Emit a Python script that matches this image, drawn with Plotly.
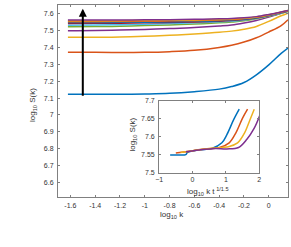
import plotly.graph_objects as go

# ---- main panel data ----
log_k = [-1.62, -1.4, -1.2, -1.0, -0.8, -0.6, -0.4, -0.3, -0.2, -0.1, 0.0, 0.1, 0.155]
s1 = [7.122, 7.122, 7.122, 7.124, 7.128, 7.138, 7.153, 7.168, 7.192, 7.238, 7.297, 7.365, 7.397]
s2 = [7.371, 7.371, 7.370, 7.371, 7.375, 7.383, 7.400, 7.413, 7.432, 7.458, 7.492, 7.530, 7.565]
s3 = [7.460, 7.460, 7.462, 7.466, 7.472, 7.480, 7.490, 7.497, 7.508, 7.525, 7.555, 7.588, 7.604]
s4 = [7.499, 7.500, 7.503, 7.507, 7.512, 7.518, 7.527, 7.533, 7.545, 7.560, 7.580, 7.603, 7.616]
s5 = [7.523, 7.524, 7.526, 7.530, 7.534, 7.539, 7.546, 7.551, 7.558, 7.570, 7.585, 7.603, 7.613]
s6 = [7.532, 7.533, 7.535, 7.538, 7.542, 7.546, 7.552, 7.556, 7.563, 7.573, 7.588, 7.605, 7.615]
s7 = [7.542, 7.543, 7.544, 7.546, 7.548, 7.551, 7.556, 7.560, 7.566, 7.575, 7.590, 7.607, 7.617]
s8 = [7.548, 7.548, 7.549, 7.550, 7.552, 7.555, 7.559, 7.563, 7.568, 7.577, 7.591, 7.608, 7.618]
s9 = [7.553, 7.553, 7.554, 7.555, 7.557, 7.559, 7.563, 7.566, 7.571, 7.579, 7.593, 7.609, 7.618]
s10 = [7.558, 7.558, 7.559, 7.560, 7.561, 7.563, 7.566, 7.569, 7.573, 7.581, 7.594, 7.610, 7.619]
s11 = [7.563, 7.563, 7.563, 7.564, 7.565, 7.567, 7.570, 7.572, 7.576, 7.583, 7.596, 7.611, 7.620]
main_series = [s1, s2, s3, s4, s5, s6, s7, s8, s9, s10, s11]

# ---- inset data (rescaled) ----
in_x1 = [-0.67, -0.45, -0.2, -0.15, 0.2, 0.58, 0.88, 1.03, 1.23, 1.4]
in_y1 = [7.549, 7.549, 7.550, 7.556, 7.5636, 7.567, 7.583, 7.606, 7.647, 7.677]
in_x2 = [-0.5, -0.2, 0.29, 0.81, 1.1, 1.3, 1.5, 1.65]
in_y2 = [7.5545, 7.558, 7.565, 7.570, 7.583, 7.611, 7.652, 7.677]
in_x3 = [-0.36, 0.0, 0.49, 1.1, 1.35, 1.56, 1.72, 1.85]
in_y3 = [7.556, 7.561, 7.567, 7.573, 7.583, 7.611, 7.647, 7.677]
in_x4 = [-0.2, 0.2, 0.68, 1.03, 1.38, 1.63, 1.85, 2.0, 2.05]
in_y4 = [7.558, 7.563, 7.567, 7.566, 7.570, 7.593, 7.624, 7.656, 7.67]
inset_series = [(in_x1, in_y1), (in_x2, in_y2), (in_x3, in_y3), (in_x4, in_y4)]

main_xticks = [-1.6, -1.4, -1.2, -1.0, -0.8, -0.6, -0.4, -0.2, 0.0]
main_xticklabels = ["-1.6", "-1.4", "-1.2", "-1", "-0.8", "-0.6", "-0.4", "-0.2", "0"]
main_yticks = [6.6, 6.7, 6.8, 6.9, 7.0, 7.1, 7.2, 7.3, 7.4, 7.5, 7.6]
main_yticklabels = ["6.6", "6.7", "6.8", "6.9", "7", "7.1", "7.2", "7.3", "7.4", "7.5", "7.6"]
inset_xticks = [-1, 0, 1, 2]
inset_yticks = [7.5, 7.55, 7.6, 7.65, 7.7]
inset_yticklabels = ["7.5", "7.55", "7.6", "7.65", "7.7"]

colors = ["#0072BD", "#D95319", "#EDB120", "#7E2F8E", "#77AC30", "#4DBEEE", "#A2142F"]

fig = go.Figure()
for i, s in enumerate(main_series):
    fig.add_trace(go.Scatter(x=log_k, y=s, mode="lines",
                             line=dict(color=colors[i % 7], width=1.5, shape="spline"),
                             xaxis="x", yaxis="y", showlegend=False))
for i, (xs, ys) in enumerate(inset_series):
    fig.add_trace(go.Scatter(x=xs, y=ys, mode="lines",
                             line=dict(color=colors[i], width=1.5, shape="spline"),
                             xaxis="x2", yaxis="y2", showlegend=False))

FONT = "Liberation Sans, Arial, sans-serif"
axcol = "#808080"
tickfont = dict(family=FONT, size=7, color="#333333")
common = dict(showgrid=False, zeroline=False, showline=True, linecolor=axcol, linewidth=1,
              mirror="allticks", ticks="inside", ticklen=2, tickcolor=axcol, tickwidth=1,
              tickfont=tickfont)

fig.update_layout(
    width=291, height=247,
    margin=dict(l=58, r=1, t=1, b=50),
    paper_bgcolor="white", plot_bgcolor="white",
    xaxis=dict(domain=[0, 1], range=[-1.70, 0.155], tickvals=main_xticks,
               ticktext=main_xticklabels, anchor="y", ticklabelstandoff=2, **common),
    yaxis=dict(domain=[0, 1], range=[6.513, 7.652], tickvals=main_yticks,
               ticktext=main_yticklabels, anchor="x", ticklabelstandoff=2, **common),
    xaxis2=dict(domain=[0.4397, 0.875], range=[-1, 2], tickvals=inset_xticks,
                anchor="y2", ticklabelstandoff=0, **common),
    yaxis2=dict(domain=[0.1276, 0.5], range=[7.5, 7.7], tickvals=inset_yticks,
                ticktext=inset_yticklabels, anchor="x2", ticklabelstandoff=2, **common),
    shapes=[dict(type="rect", xref="x2 domain", yref="y2 domain", x0=0, x1=1, y0=0, y1=1,
                 fillcolor="white", line=dict(width=0), layer="below")],
    annotations=[
        dict(x=-1.5, y=7.63, ax=-1.5, ay=7.105, xref="x", yref="y", axref="x", ayref="y",
             showarrow=True, arrowhead=2, arrowsize=0.8, arrowwidth=2, arrowcolor="black", text=""),
        dict(text="log<sub>10</sub> S(k)", x=-0.108, y=0.48, xref="paper", yref="paper",
             textangle=-90, showarrow=False, xanchor="center", yanchor="middle",
             font=dict(family=FONT, size=8, color="#333333")),
        dict(text="log<sub>10</sub> k", x=0.496, y=-0.092, xref="paper", yref="paper",
             showarrow=False, xanchor="center", yanchor="middle",
             font=dict(family=FONT, size=8, color="#333333")),
        dict(text="log<sub>10</sub> k t<sup> 1/1.5</sup>", x=0.651, y=0.031, xref="paper", yref="paper",
             showarrow=False, xanchor="center", yanchor="middle",
             font=dict(family=FONT, size=8, color="#333333")),
        dict(text="log<sub>10</sub> S(k)", x=0.3276, y=0.327, xref="paper", yref="paper",
             textangle=-90, showarrow=False, xanchor="center", yanchor="middle",
             font=dict(family=FONT, size=8, color="#333333")),
    ],
)

fig.write_html("out.html", config={"displayModeBar": False},
               post_script="document.body.style.margin='0px';")
